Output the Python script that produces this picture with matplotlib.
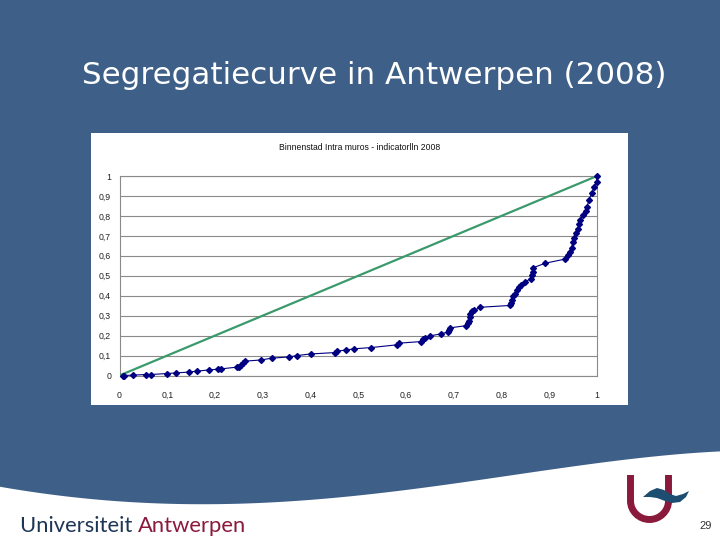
import numpy as np
import matplotlib
matplotlib.use("Agg")
import matplotlib.pyplot as plt
from matplotlib.patches import Rectangle, Polygon
from matplotlib.path import Path
from matplotlib.patches import PathPatch

# ---- data ----
x_vals = [0.008, 0.010, 0.028, 0.056, 0.066, 0.100, 0.119, 0.145, 0.163, 0.188,
          0.207, 0.212, 0.246, 0.251, 0.254, 0.258, 0.263, 0.297, 0.319, 0.354,
          0.372, 0.400, 0.452, 0.455, 0.475, 0.492, 0.527, 0.582, 0.585, 0.631,
          0.635, 0.639, 0.651, 0.674, 0.688, 0.691, 0.693, 0.726, 0.729, 0.731,
          0.733, 0.735, 0.738, 0.743, 0.756, 0.817, 0.820, 0.822, 0.825, 0.828,
          0.832, 0.836, 0.841, 0.850, 0.862, 0.863, 0.865, 0.867, 0.892, 0.932,
          0.940, 0.944, 0.947, 0.949, 0.952, 0.957, 0.960, 0.962, 0.964, 0.971,
          0.976, 0.979, 0.983, 0.989, 0.993, 0.999, 1.000]
y_vals = [0.000, 0.000, 0.002, 0.005, 0.005, 0.010, 0.013, 0.017, 0.022, 0.028,
          0.032, 0.033, 0.042, 0.045, 0.053, 0.062, 0.072, 0.078, 0.087, 0.093,
          0.100, 0.108, 0.115, 0.122, 0.128, 0.134, 0.140, 0.154, 0.162, 0.170,
          0.182, 0.189, 0.199, 0.209, 0.219, 0.229, 0.239, 0.250, 0.262, 0.275,
          0.292, 0.307, 0.321, 0.327, 0.342, 0.351, 0.362, 0.379, 0.396, 0.409,
          0.429, 0.446, 0.456, 0.471, 0.486, 0.504, 0.521, 0.541, 0.563, 0.583,
          0.604, 0.619, 0.641, 0.668, 0.688, 0.713, 0.736, 0.758, 0.780, 0.803,
          0.825, 0.843, 0.880, 0.913, 0.943, 0.970, 1.000]
eq_x = [0, 1]
eq_y = [0, 1]
x_ticks = [0, 0.1, 0.2, 0.3, 0.4, 0.5, 0.6, 0.7, 0.8, 0.9, 1]
x_tick_labels = ["0", "0,1", "0,2", "0,3", "0,4", "0,5", "0,6", "0,7", "0,8", "0,9", "1"]
y_ticks = [0, 0.1, 0.2, 0.3, 0.4, 0.5, 0.6, 0.7, 0.8, 0.9, 1]
y_tick_labels = ["0", "0,1", "0,2", "0,3", "0,4", "0,5", "0,6", "0,7", "0,8", "0,9", "1"]
slide_title = "Segregatiecurve in Antwerpen (2008)"
chart_title = "Binnenstad Intra muros - indicatorlln 2008"

BLUE = "#3e6088"
MAROON = "#8a1a3c"
NAVY_TXT = "#1e3656"

W, H = 720, 540
fig = plt.figure(figsize=(7.2, 5.4), dpi=100)
fig.patch.set_facecolor(BLUE)

# background overlay axes in pixel coordinates
bg = fig.add_axes([0, 0, 1, 1], zorder=0)
bg.set_xlim(0, W)
bg.set_ylim(H, 0)
bg.axis("off")
bg.set_facecolor("none")

# white wave at the bottom
cx = np.array([0, 100, 200, 300, 400, 500, 600, 700, 720])
cy = np.array([487, 499, 505, 501, 490, 477, 463, 453, 451])
coef = np.polyfit(cx, cy, 4)
xs = np.linspace(0, W, 200)
ys = np.polyval(coef, xs)
poly = np.vstack([np.column_stack([xs, ys]), [[W, H], [0, H]]])
bg.add_patch(Polygon(poly, closed=True, facecolor="white", edgecolor="none"))

# slide title
bg.text(82, 76, slide_title, color="white", fontsize=22.3, family="DejaVu Sans",
        ha="left", va="center")

# white chart panel
bg.add_patch(Rectangle((91, 133), 537, 272, facecolor="white", edgecolor="none"))
bg.text(359.5, 148, chart_title, fontsize=6.2, family="Liberation Sans",
        ha="center", va="center", color="#111111")

# university name
t1 = bg.text(20, 532, "Universiteit ", color=NAVY_TXT, fontsize=15.8,
             family="Lato", ha="left", va="baseline")
fig.canvas.draw()
bb = t1.get_window_extent()
inv = bg.transData.inverted()
x_end = inv.transform((bb.x1, bb.y0))[0]
bg.text(x_end, 532, "Antwerpen", color=MAROON, fontsize=15.8,
        family="Lato", ha="left", va="baseline")

# logo: U shape
upath = Path([(630.5, 475), (630.5, 501), (630.5, 511), (639, 519.5), (649.5, 519.5),
              (660, 519.5), (668.5, 511), (668.5, 501), (668.5, 475)],
             [Path.MOVETO, Path.LINETO, Path.CURVE4, Path.CURVE4, Path.CURVE4,
              Path.CURVE4, Path.CURVE4, Path.CURVE4, Path.LINETO])
bg.add_patch(PathPatch(upath, facecolor="none", edgecolor=MAROON, lw=5.0,
                       capstyle="butt"))
wave = [(643, 497), (650, 491), (657, 488), (664, 490), (670, 494), (676, 496),
        (683, 494), (689, 491), (686, 497), (680, 502), (672, 503), (665, 501),
        (657, 498), (650, 497)]
bg.add_patch(Polygon(wave, closed=True, facecolor="#1d4d70", edgecolor="none"))
bg.text(706, 526, "29", fontsize=8, color="#333333", ha="center", va="center",
        family="Liberation Sans")

# ---- chart ----
left, right, top, bottom = 119.5, 597, 176, 375.5
ax = fig.add_axes([left / W, (H - bottom) / H, (right - left) / W, (bottom - top) / H],
                  zorder=2)
ax.set_facecolor("white")
ax.set_xlim(0, 1)
ax.set_ylim(0, 1)
ax.set_yticks(y_ticks)
ax.set_xticks(x_ticks)
ax.set_yticklabels(y_tick_labels)
ax.set_xticklabels(x_tick_labels)
ax.tick_params(length=0, labelsize=6.3, colors="#222222")
ax.tick_params(axis="x", pad=11)
ax.tick_params(axis="y", pad=6)
for lab in ax.get_xticklabels() + ax.get_yticklabels():
    lab.set_family("Liberation Sans")
ax.grid(axis="y", color="#8a8a8a", lw=0.8)
ax.set_axisbelow(True)
for s in ax.spines.values():
    s.set_color("#8a8a8a")
    s.set_linewidth(0.8)

ax.plot(eq_x, eq_y, color="#3a9a6c", lw=1.6, zorder=3)
ax.plot(x_vals, y_vals, color="#000080", lw=0.8, marker="D", markersize=3.0,
        markerfacecolor="#000080", markeredgecolor="#000080", zorder=4,
        clip_on=False)

fig.savefig("out.png", dpi=100, facecolor=fig.get_facecolor())
